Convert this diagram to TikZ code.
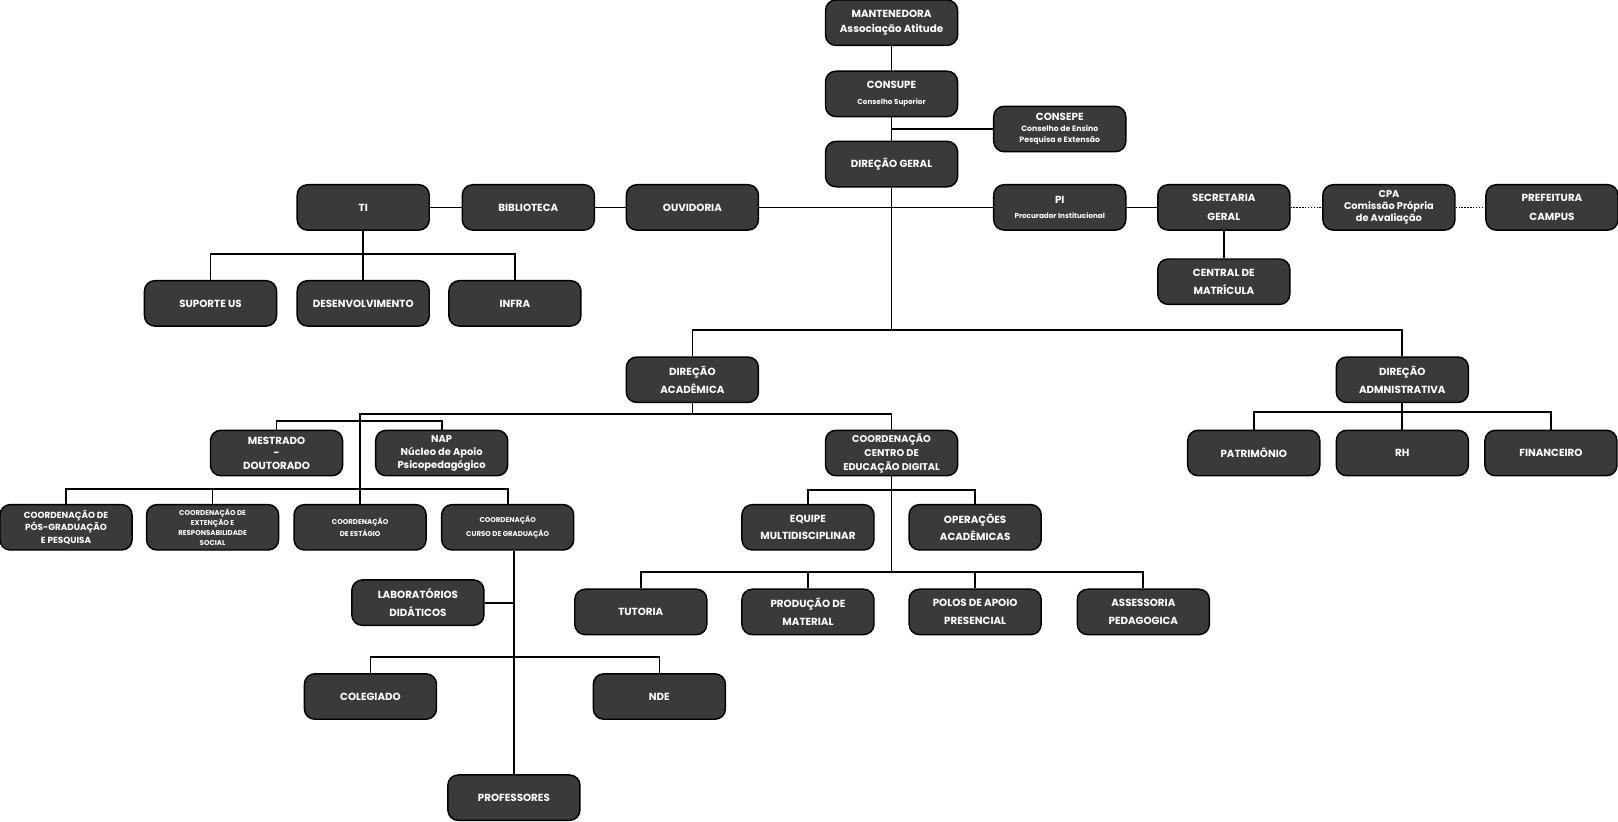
\documentclass[tikz,border=0pt]{standalone}
\usepackage{fontspec}
\setmainfont{Poppins}
\definecolor{boxgray}{RGB}{58,58,58}
\begin{document}
\begin{tikzpicture}[x=1pt,y=-1pt,
  box/.style={draw=black, line width=1.4pt, fill=boxgray, rounded corners=10pt,
    minimum width=128pt, minimum height=44pt, text=white, align=center, inner sep=0pt,
    font=\bfseries\fontsize{10}{17}\selectfont},
  fs/.style 2 args={font=\bfseries\fontsize{#1}{#2}\selectfont},
  conn/.style={draw=black, line width=1.7pt},
  dotconn/.style={draw=black, line width=1.4pt, dash pattern=on 1.4pt off 1.4pt}]
\useasboundingbox (0,0) rectangle (1568,796);
% coordinates for buses
\coordinate (tibus) at (0,246);
\coordinate (mainbus) at (0,320);
\coordinate (acadbus) at (0,401);
\coordinate (mestbus) at (0,408);
\coordinate (coordbus) at (0,474);
\coordinate (admbus) at (0,399);
\coordinate (cedbusa) at (0,475);
\coordinate (cedbusb) at (0,554);
\coordinate (colbus) at (0,637);
% top
\node[box, fs={10}{14}] (mant) at (864,22) {MANTENEDORA\\Associação Atitude};
\node[box, fs={10}{14}] (consupe) at (864,91) {CONSUPE\\[1pt]{\fontsize{7}{8}\selectfont Conselho Superior}};
\node[box, fs={7.5}{10.5}] (consepe) at (1027,125) {{\fontsize{10}{12}\selectfont CONSEPE}\\Conselho de Ensino\\Pesquisa e Extensão};
\node[box] (dg) at (864,159) {DIREÇÃO GERAL};
% row 1
\node[box] (ti) at (352,201) {TI};
\node[box] (bib) at (512,201) {BIBLIOTECA};
\node[box] (ouv) at (671,201) {OUVIDORIA};
\node[box, fs={10}{15}] (pi) at (1027,201) {PI\\[-1pt]{\fontsize{7}{8}\selectfont Procurador Institucional}};
\node[box, fs={10}{18}] (sec) at (1186,201) {SECRETARIA\\GERAL};
\node[box, fs={9.5}{11.5}] (cpa) at (1346,201) {CPA\\Comissão Própria\\de Avaliação};
\node[box, fs={10}{18}] (pref) at (1504,201) {PREFEITURA\\CAMPUS};
\node[box, fs={10}{18}] (central) at (1186,273) {CENTRAL DE\\MATRÍCULA};
% TI children
\node[box] (sup) at (204,294) {SUPORTE US};
\node[box] (des) at (352,294) {DESENVOLVIMENTO};
\node[box] (infra) at (499,294) {INFRA};
% directions
\node[box] (dacad) at (671,368) {DIREÇÃO\\ACADÊMICA};
\node[box] (dadm) at (1359,368) {DIREÇÃO\\ADMNISTRATIVA};
% level 3
\node[box, fs={10}{12}] (mest) at (268,439) {MESTRADO\\-\\DOUTORADO};
\node[box, fs={9.6}{12.5}] (nap) at (428,439) {NAP\\Núcleo de Apoio\\Psicopedagógico};
\node[box, fs={9.5}{13.5}] (ced) at (864,439) {COORDENAÇÃO\\CENTRO DE\\EDUCAÇÃO DIGITAL};
\node[box] (pat) at (1215,439) {PATRIMÔNIO};
\node[box] (rh) at (1359,439) {RH};
\node[box] (fin) at (1503,439) {FINANCEIRO};
% coord row
\node[box, fs={8.6}{12}] (pos) at (64,511) {COORDENAÇÃO DE\\PÓS-GRADUAÇÃO\\E PESQUISA};
\node[box, fs={6.8}{9.5}] (ext) at (206,511) {COORDENAÇÃO DE\\EXTENÇÃO E\\RESPONSABILIDADE\\SOCIAL};
\node[box, fs={6.8}{12}] (est) at (349,511) {COORDENAÇÃO\\DE ESTÁGIO};
\node[box, fs={6.8}{13}] (curso) at (492,511) {COORDENAÇÃO\\CURSO DE GRADUAÇÃO};
\node[box, fs={10}{16}] (equipe) at (783,511) {EQUIPE\\MULTIDISCIPLINAR};
\node[box, fs={10}{16}] (oper) at (945,511) {OPERAÇÕES\\ACADÊMICAS};
% lower
\node[box, fs={10}{17}] (lab) at (405,584) {LABORATÓRIOS\\DIDÁTICOS};
\node[box] (tut) at (621,593) {TUTORIA};
\node[box] (prod) at (783,593) {PRODUÇÃO DE\\MATERIAL};
\node[box] (polos) at (945,593) {POLOS DE APOIO\\PRESENCIAL};
\node[box] (ass) at (1108,593) {ASSESSORIA\\PEDAGOGICA};
\node[box] (coleg) at (359,675) {COLEGIADO};
\node[box] (nde) at (639,675) {NDE};
\node[box] (prof) at (498,773) {PROFESSORES};
% connectors
\draw[conn] (mant) -- (consupe);
\draw[conn] (consupe) -- (dg);
\draw[conn] (consepe.west) -- (consepe.west -| dg.north);
\draw[conn] (ti) -- (bib);
\draw[conn] (bib) -- (ouv);
\draw[conn] (ouv) -- (pi);
\draw[conn] (pi) -- (sec);
\draw[dotconn] (sec) -- (cpa);
\draw[dotconn] (cpa) -- (pref);
\draw[conn] (sec) -- (central);
\draw[conn] (ti) -- (des);
\draw[conn] (sup.north) |- (infra.north |- tibus) -- (infra.north);
\draw[conn] (dg.south) -- (dg.south |- mainbus);
\draw[conn] (dacad.north) |- (dadm.north |- mainbus) -- (dadm.north);
\draw[conn] (dacad.south) -- (dacad.south |- acadbus);
\draw[conn] (ced.north) |- (est.north |- acadbus) -- (est.north);
\draw[conn] (mest.north) |- (nap.north |- mestbus) -- (nap.north);
\draw[conn] (pos.north) |- (curso.north |- coordbus) -- (curso.north);
\draw[conn] (ext.north) -- (ext.north |- coordbus);
\draw[conn] (dadm.south) -- (dadm.south |- admbus);
\draw[conn] (pat.north) |- (fin.north |- admbus) -- (fin.north);
\draw[conn] (rh.north) -- (rh.north |- admbus);
\draw[conn] (ced.south) -- (ced.south |- cedbusb);
\draw[conn] (equipe.north) |- (oper.north |- cedbusa) -- (oper.north);
\draw[conn] (tut.north) |- (ass.north |- cedbusb) -- (ass.north);
\draw[conn] (prod.north) -- (prod.north |- cedbusb);
\draw[conn] (polos.north) -- (polos.north |- cedbusb);
\draw[conn] (prof.north) -- (prof.north |- curso.south);
\draw[conn] (lab.east) -- (lab.east -| prof.north);
\draw[conn] (coleg.north) |- (nde.north |- colbus) -- (nde.north);
\end{tikzpicture}
\end{document}
